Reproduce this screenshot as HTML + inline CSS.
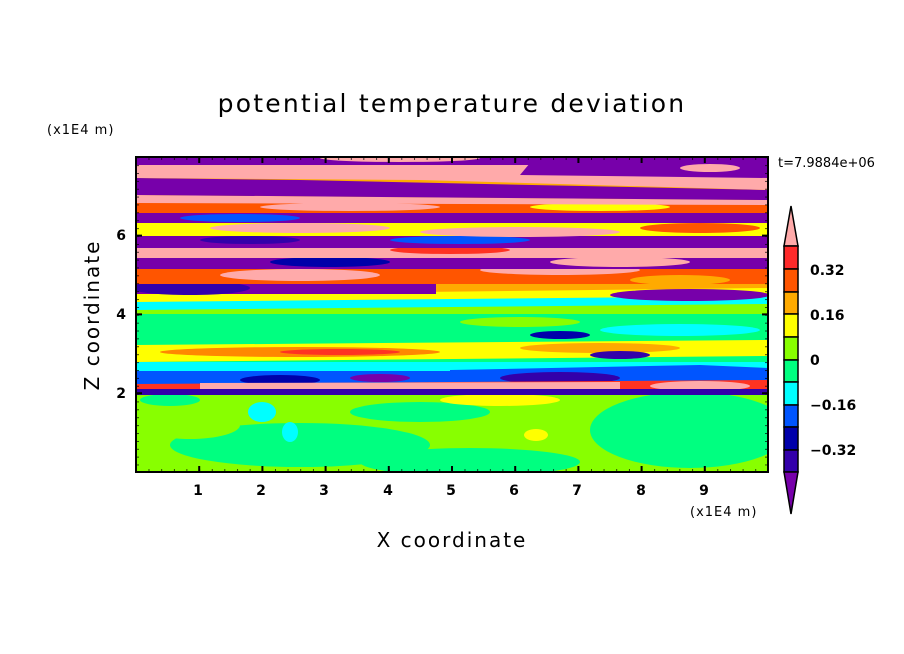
<!DOCTYPE html>
<html><head><meta charset="utf-8"><style>
html,body{margin:0;padding:0;background:#fff;}
svg{display:block;font-family:"DejaVu Sans","Liberation Sans",sans-serif;}
</style></head><body>
<svg width="904" height="654" viewBox="0 0 904 654" xmlns="http://www.w3.org/2000/svg">
<defs>
<clipPath id="c"><rect x="136" y="157" width="632" height="315"/></clipPath>
<pattern id="mx" x="136" y="0" width="12.64" height="10" patternUnits="userSpaceOnUse"><rect x="-0.5" y="0" width="1.2" height="10" fill="#000"/></pattern>
<pattern id="mz" x="0" y="-0.3" width="10" height="7.88" patternUnits="userSpaceOnUse"><rect x="0" y="-0.5" width="10" height="1.2" fill="#000"/></pattern>
</defs>
<rect width="904" height="654" fill="#fff"/>
<g clip-path="url(#c)">
<rect x="136" y="157" width="632" height="315" fill="#88ff00"/>
<rect x="136" y="393" width="632" height="79" fill="#88ff00"/>
<ellipse cx="300" cy="445" rx="130" ry="22" fill="#00ff80"/>
<ellipse cx="470" cy="462" rx="110" ry="14" fill="#00ff80"/>
<ellipse cx="690" cy="430" rx="100" ry="38" fill="#00ff80"/>
<ellipse cx="420" cy="412" rx="70" ry="10" fill="#00ff80"/>
<ellipse cx="190" cy="425" rx="50" ry="14" fill="#88ff00"/>
<ellipse cx="262" cy="412" rx="14" ry="10" fill="#00ffff"/>
<ellipse cx="290" cy="432" rx="8" ry="10" fill="#00ffff"/>
<ellipse cx="536" cy="435" rx="12" ry="6" fill="#ffff00"/>
<ellipse cx="500" cy="400" rx="60" ry="6" fill="#ffff00"/>
<ellipse cx="170" cy="400" rx="30" ry="6" fill="#00ff80"/>
<rect x="136" y="298" width="632" height="95" fill="#00ff80"/>
<rect x="136" y="300" width="632" height="14" fill="#88ff00"/>
<polygon points="136,345 768,340 768,356 136,362" fill="#ffff00"/>
<ellipse cx="300" cy="352" rx="140" ry="5" fill="#ff8800"/>
<ellipse cx="340" cy="352" rx="60" ry="3" fill="#ff3322"/>
<ellipse cx="600" cy="348" rx="80" ry="5" fill="#ffaa00"/>
<ellipse cx="520" cy="322" rx="60" ry="5" fill="#88ff00"/>
<ellipse cx="680" cy="330" rx="80" ry="6" fill="#00ffff"/>
<rect x="136" y="362" width="632" height="10" fill="#00ffff"/>
<rect x="136" y="371" width="632" height="13" fill="#0055ff"/>
<ellipse cx="280" cy="380" rx="40" ry="5" fill="#0000aa"/>
<ellipse cx="380" cy="378" rx="30" ry="4" fill="#7700aa"/>
<polygon points="450,370 700,365 768,368 768,384 450,388" fill="#0055ff"/>
<ellipse cx="560" cy="378" rx="60" ry="6" fill="#3300aa"/>
<polygon points="136,384 768,380 768,393 136,393" fill="#ff3322"/>
<polygon points="200,383 620,382 620,390 200,392" fill="#ffaaaa"/>
<ellipse cx="700" cy="386" rx="50" ry="5" fill="#ffaaaa"/>
<polygon points="136,389 768,389 768,395 136,395" fill="#3300aa"/>
<ellipse cx="620" cy="355" rx="30" ry="4" fill="#3300aa"/>
<ellipse cx="560" cy="335" rx="30" ry="4" fill="#0000aa"/>
<rect x="136" y="157" width="632" height="143" fill="#ffaa00"/>
<polygon points="136,298 768,292 768,304 136,310" fill="#00ffff"/>
<polygon points="136,290 420,292 768,288 768,296 136,302" fill="#ffff00"/>
<rect x="136" y="284" width="300" height="10" fill="#7700aa"/>
<ellipse cx="690" cy="295" rx="80" ry="6" fill="#7700aa"/>
<ellipse cx="190" cy="288" rx="60" ry="7" fill="#3300aa"/>
<rect x="136" y="268" width="632" height="16" fill="#ff5500"/>
<ellipse cx="300" cy="275" rx="80" ry="6" fill="#ffaaaa"/>
<ellipse cx="560" cy="270" rx="80" ry="5" fill="#ffaaaa"/>
<ellipse cx="680" cy="280" rx="50" ry="5" fill="#ffaa00"/>
<rect x="136" y="257" width="632" height="12" fill="#7700aa"/>
<ellipse cx="330" cy="262" rx="60" ry="5" fill="#0000aa"/>
<ellipse cx="620" cy="262" rx="70" ry="5" fill="#ffaaaa"/>
<rect x="136" y="247" width="632" height="11" fill="#ffaaaa"/>
<ellipse cx="450" cy="250" rx="60" ry="4" fill="#ff3322"/>
<rect x="136" y="236" width="632" height="12" fill="#7700aa"/>
<ellipse cx="460" cy="240" rx="70" ry="4" fill="#0055ff"/>
<ellipse cx="250" cy="240" rx="50" ry="4" fill="#3300aa"/>
<rect x="136" y="222" width="632" height="14" fill="#ffff00"/>
<ellipse cx="300" cy="228" rx="90" ry="5" fill="#ffaaaa"/>
<ellipse cx="520" cy="232" rx="100" ry="5" fill="#ffaaaa"/>
<ellipse cx="700" cy="228" rx="60" ry="5" fill="#ff5500"/>
<rect x="136" y="212" width="632" height="11" fill="#7700aa"/>
<ellipse cx="240" cy="218" rx="60" ry="4" fill="#0055ff"/>
<rect x="136" y="203" width="632" height="10" fill="#ff5500"/>
<ellipse cx="350" cy="207" rx="90" ry="4" fill="#ffaaaa"/>
<ellipse cx="600" cy="207" rx="70" ry="4" fill="#ffff00"/>
<polygon points="136,195 768,200 768,205 136,203" fill="#ffaaaa"/>
<polygon points="136,178 300,180 768,190 768,200 136,195" fill="#7700aa"/>
<polygon points="136,165 768,165 768,190 420,180 136,178" fill="#ffaaaa"/>
<polygon points="530,163 768,160 768,178 520,175" fill="#7700aa"/>
<rect x="136" y="157" width="632" height="8" fill="#7700aa"/>
<ellipse cx="400" cy="158" rx="80" ry="4" fill="#ffaaaa"/>
<ellipse cx="710" cy="168" rx="30" ry="4" fill="#ffaaaa"/>
</g>
<rect x="136" y="157" width="632" height="315" fill="none" stroke="#000" stroke-width="2"/>
<rect x="136" y="157" width="632" height="3" fill="url(#mx)"/>
<rect x="136" y="469" width="632" height="3" fill="url(#mx)"/>
<rect x="136" y="157" width="3" height="315" fill="url(#mz)"/>
<rect x="765" y="157" width="3" height="315" fill="url(#mz)"/>
<path d="M199.2 157v6M262.4 157v6M325.6 157v6M388.8 157v6M452 157v6M515.2 157v6M578.4 157v6M641.6 157v6M704.8 157v6
M199.2 472v-6M262.4 472v-6M325.6 472v-6M388.8 472v-6M452 472v-6M515.2 472v-6M578.4 472v-6M641.6 472v-6M704.8 472v-6
M136 393.2h6M136 314.4h6M136 235.6h6M768 393.2h-6M768 314.4h-6M768 235.6h-6" stroke="#000" stroke-width="2"/>
<text x="452" y="112" font-size="25" text-anchor="middle" letter-spacing="2.2">potential temperature deviation</text>
<text x="47" y="134" font-size="13" letter-spacing="1">(x1E4 m)</text>
<text x="778" y="167" font-size="13">t=7.9884e+06</text>
<g font-size="14" text-anchor="middle" font-weight="bold">
<text x="198" y="495">1</text><text x="261" y="495">2</text><text x="324" y="495">3</text><text x="388" y="495">4</text><text x="451" y="495">5</text><text x="514" y="495">6</text><text x="577" y="495">7</text><text x="641" y="495">8</text><text x="704" y="495">9</text>
</g>
<g font-size="14" text-anchor="end" font-weight="bold">
<text x="126" y="398">2</text><text x="126" y="319">4</text><text x="126" y="240">6</text>
</g>
<text x="690" y="516" font-size="13" letter-spacing="1">(x1E4 m)</text>
<text x="452" y="547" font-size="20" text-anchor="middle" letter-spacing="2">X coordinate</text>
<text transform="translate(99,315) rotate(-90)" font-size="20" text-anchor="middle" letter-spacing="2">Z coordinate</text>
<g stroke="#000" stroke-width="1.5">
<polygon points="791,206 798,246 784,246" fill="#ffaaaa"/>
<rect x="784" y="246" width="14" height="23" fill="#ff2a2a"/>
<rect x="784" y="269" width="14" height="23" fill="#ff5500"/>
<rect x="784" y="292" width="14" height="22" fill="#ffaa00"/>
<rect x="784" y="314" width="14" height="23" fill="#ffff00"/>
<rect x="784" y="337" width="14" height="23" fill="#88ff00"/>
<rect x="784" y="360" width="14" height="22" fill="#00ff80"/>
<rect x="784" y="382" width="14" height="23" fill="#00ffff"/>
<rect x="784" y="405" width="14" height="22" fill="#0055ff"/>
<rect x="784" y="427" width="14" height="23" fill="#0000aa"/>
<rect x="784" y="450" width="14" height="22" fill="#3300aa"/>
<polygon points="784,472 798,472 791,514" fill="#7700aa"/>
</g>
<g font-size="14" font-weight="bold">
<text x="810" y="275">0.32</text><text x="810" y="320">0.16</text><text x="810" y="365">0</text><text x="810" y="410">−0.16</text><text x="810" y="455">−0.32</text>
</g>
</svg>
</body></html>
